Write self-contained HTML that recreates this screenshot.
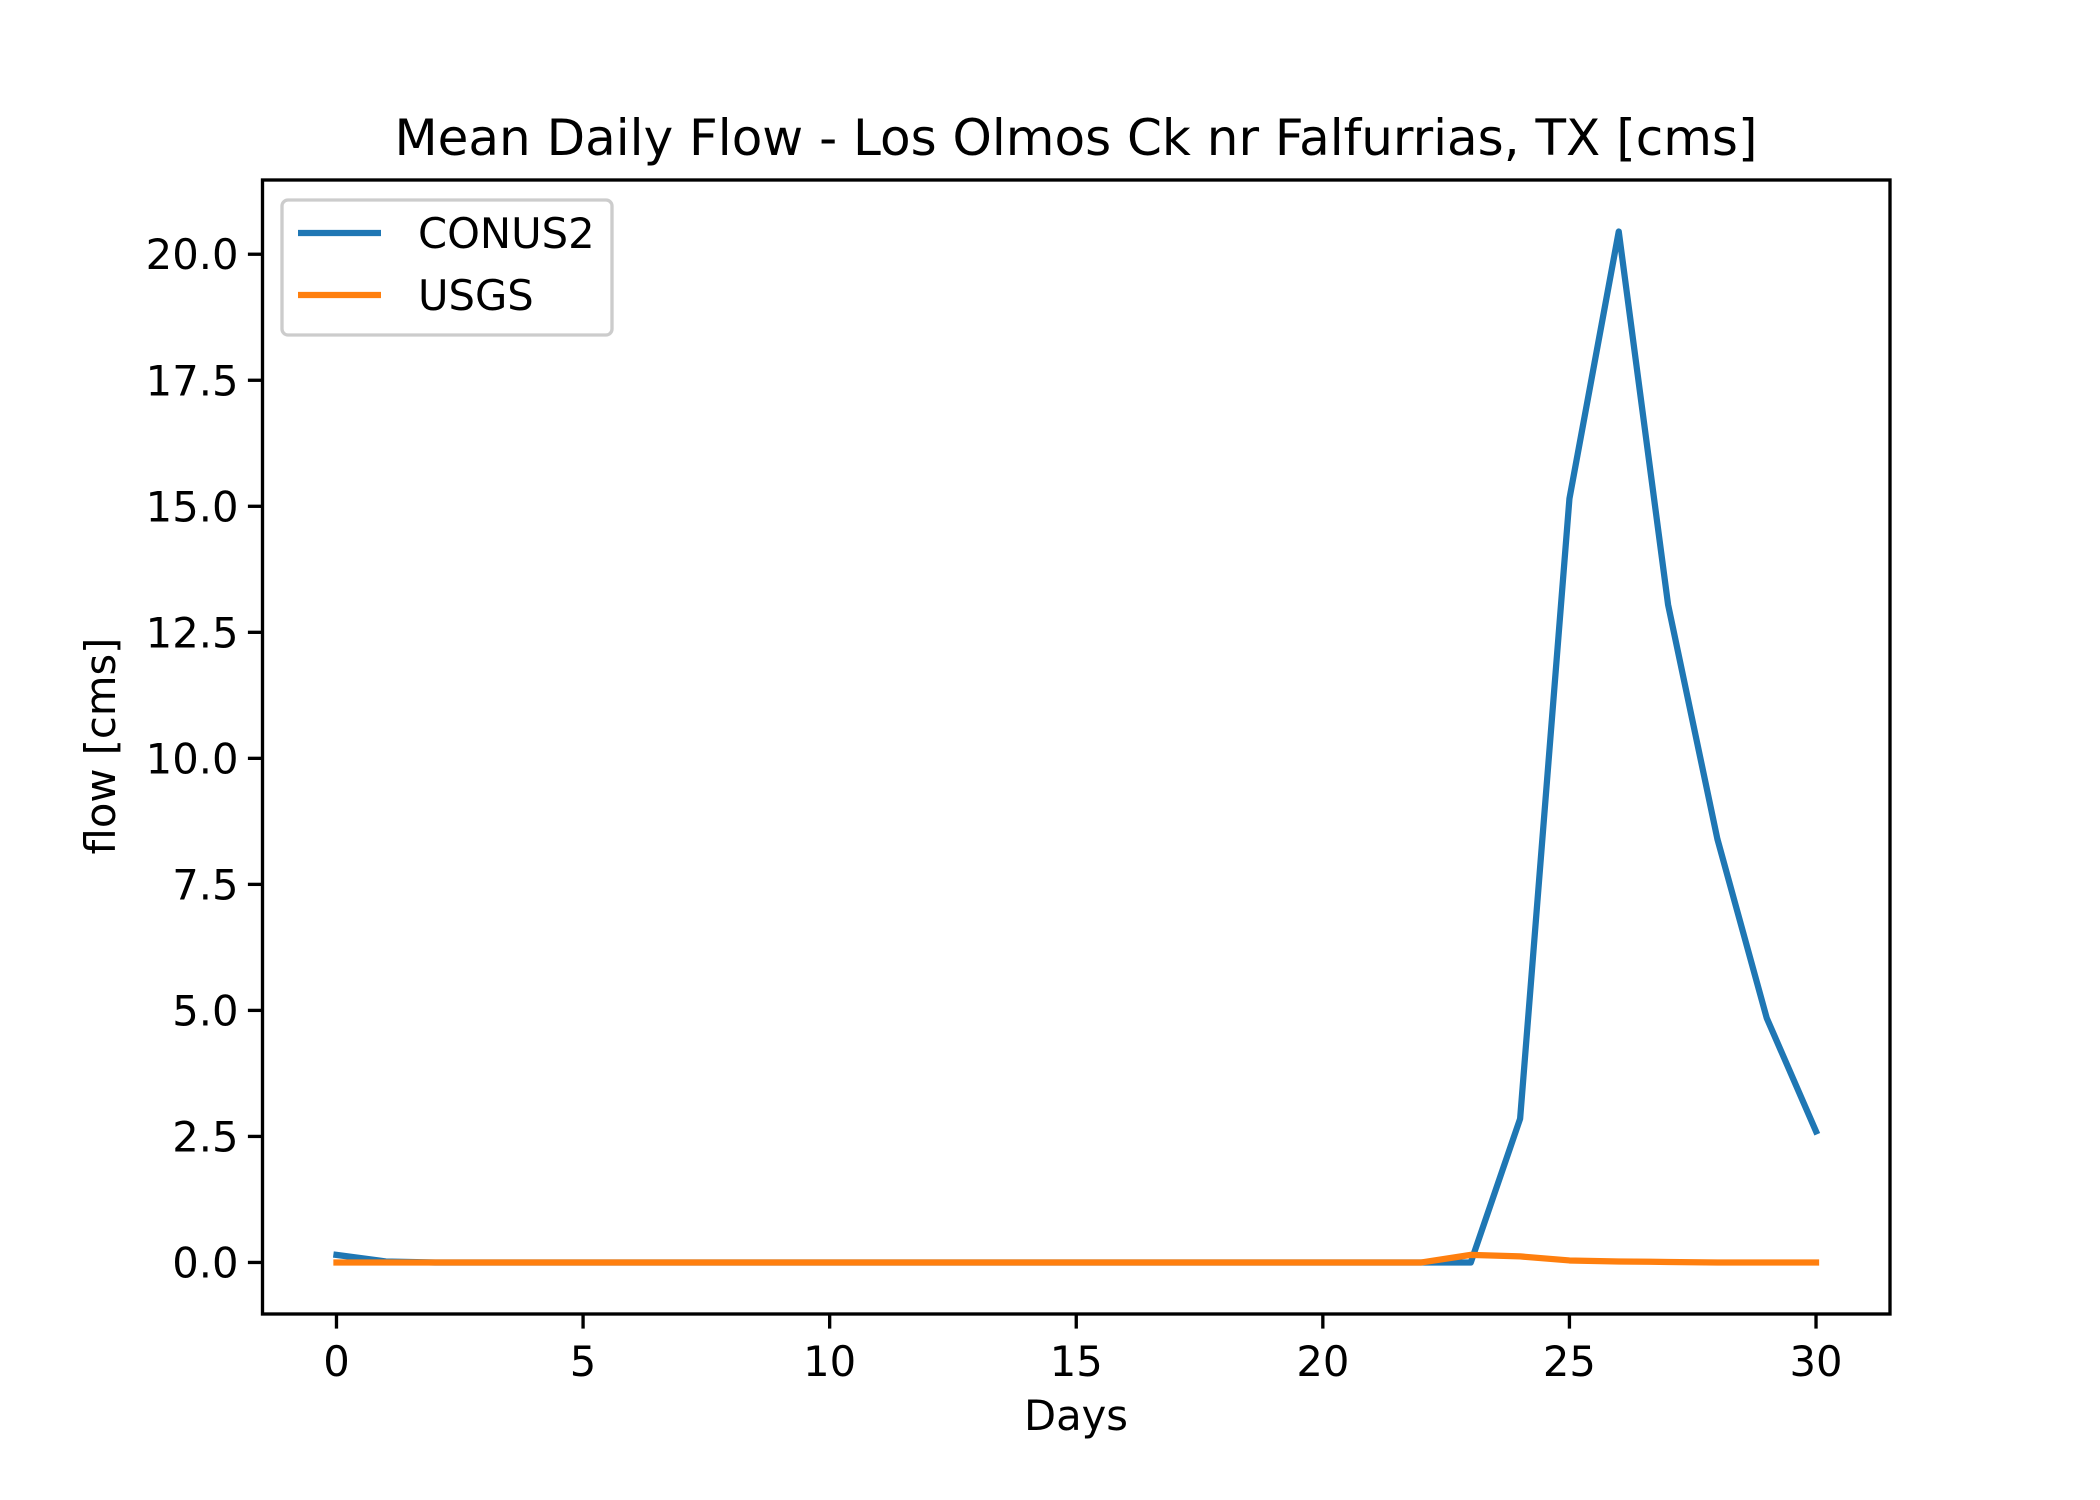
<!DOCTYPE html>
<html><head><meta charset="utf-8"><style>
html,body{margin:0;padding:0;background:#fff;}
svg{display:block;font-family:"DejaVu Sans","Liberation Sans",sans-serif;}
</style></head><body>
<svg id="chart" width="2100" height="1500" viewBox="0 0 2100 1500" xmlns="http://www.w3.org/2000/svg">
<rect width="2100" height="1500" fill="#fff"/>
<text x="1076" y="155" font-size="50" text-anchor="middle">Mean Daily Flow - Los Olmos Ck nr Falfurrias, TX [cms]</text>
<g id="plot"></g>
<text x="1076" y="1430" font-size="41.7" text-anchor="middle">Days</text>
<text transform="translate(115,746) rotate(-90)" font-size="41.7" text-anchor="middle">flow [cms]</text>
</svg>
<script>
const days = [0,1,2,3,4,5,6,7,8,9,10,11,12,13,14,15,16,17,18,19,20,21,22,23,24,25,26,27,28,29,30];
const conus2 = [0.15,0.02,0,0,0,0,0,0,0,0,0,0,0,0,0,0,0,0,0,0,0,0,0,0,2.85,15.15,20.45,13.05,8.4,4.85,2.6];
const usgs = [0,0,0,0,0,0,0,0,0,0,0,0,0,0,0,0,0,0,0,0,0,0,0,0.15,0.12,0.04,0.02,0.01,0,0,0];
const xTicks = [0,5,10,15,20,25,30];
const yTicks = [0,2.5,5,7.5,10,12.5,15,17.5,20];
const yTickLabels = ["0.0","2.5","5.0","7.5","10.0","12.5","15.0","17.5","20.0"];

const L=262.5,R=1890,T=180,B=1314;
const xmin=-1.5,xmax=31.5,ymin=-1.0225,ymax=21.4725;
const sx=v=>L+(v-xmin)/(xmax-xmin)*(R-L);
const sy=v=>B-(v-ymin)/(ymax-ymin)*(B-T);
const NS="http://www.w3.org/2000/svg";
const g=document.getElementById('plot');
function mk(tag,attrs,parent){const e=document.createElementNS(NS,tag);for(const k in attrs)e.setAttribute(k,attrs[k]);(parent||g).appendChild(e);return e;}

xTicks.forEach(t=>{
  const l=mk('line',{x1:sx(t),x2:sx(t),y1:B,y2:B+14.6,stroke:'#000','stroke-width':3.33});
  
  
  const tx=mk('text',{x:sx(t),y:B+62,'font-size':41.7,'text-anchor':'middle'});
  tx.textContent=t;
  
  
});
yTicks.forEach((t,i)=>{
  const l=mk('line',{x1:L-14.6,x2:L,y1:sy(t),y2:sy(t),stroke:'#000','stroke-width':3.33});
  
  
  const tx=mk('text',{x:L-24,y:sy(t)+15,'font-size':41.7,'text-anchor':'end'});
  tx.textContent=yTickLabels[i];
  
  
});
function line(vals,color,name){
  const p=mk('polyline',{points:days.map((d,i)=>sx(d)+','+sy(vals[i])).join(' '),fill:'none',stroke:color,'stroke-width':6.25,'stroke-linejoin':'round','stroke-linecap':'square'});
  
  
}
line(conus2,'#1f77b4','conus2-line');
line(usgs,'#ff7f0e','usgs-line');
const fr=mk('rect',{x:L,y:T,width:R-L,height:B-T,fill:'none',stroke:'#000','stroke-width':3.33});



const lg=mk('g',{});


mk('rect',{x:282,y:200,width:330,height:135,rx:6,fill:'#fff','fill-opacity':0.8,stroke:'#ccc','stroke-width':3.33},lg);
[['CONUS2','#1f77b4',233],['USGS','#ff7f0e',295]].forEach(([n,c,y])=>{
  const e=mk('g',{},lg);
  
  
  mk('line',{x1:298,x2:381,y1:y,y2:y,stroke:c,'stroke-width':6.25},e);
  const t=mk('text',{x:418,y:y+15,'font-size':41.7},e);
  t.textContent=n;
});
</script>
</body></html>
